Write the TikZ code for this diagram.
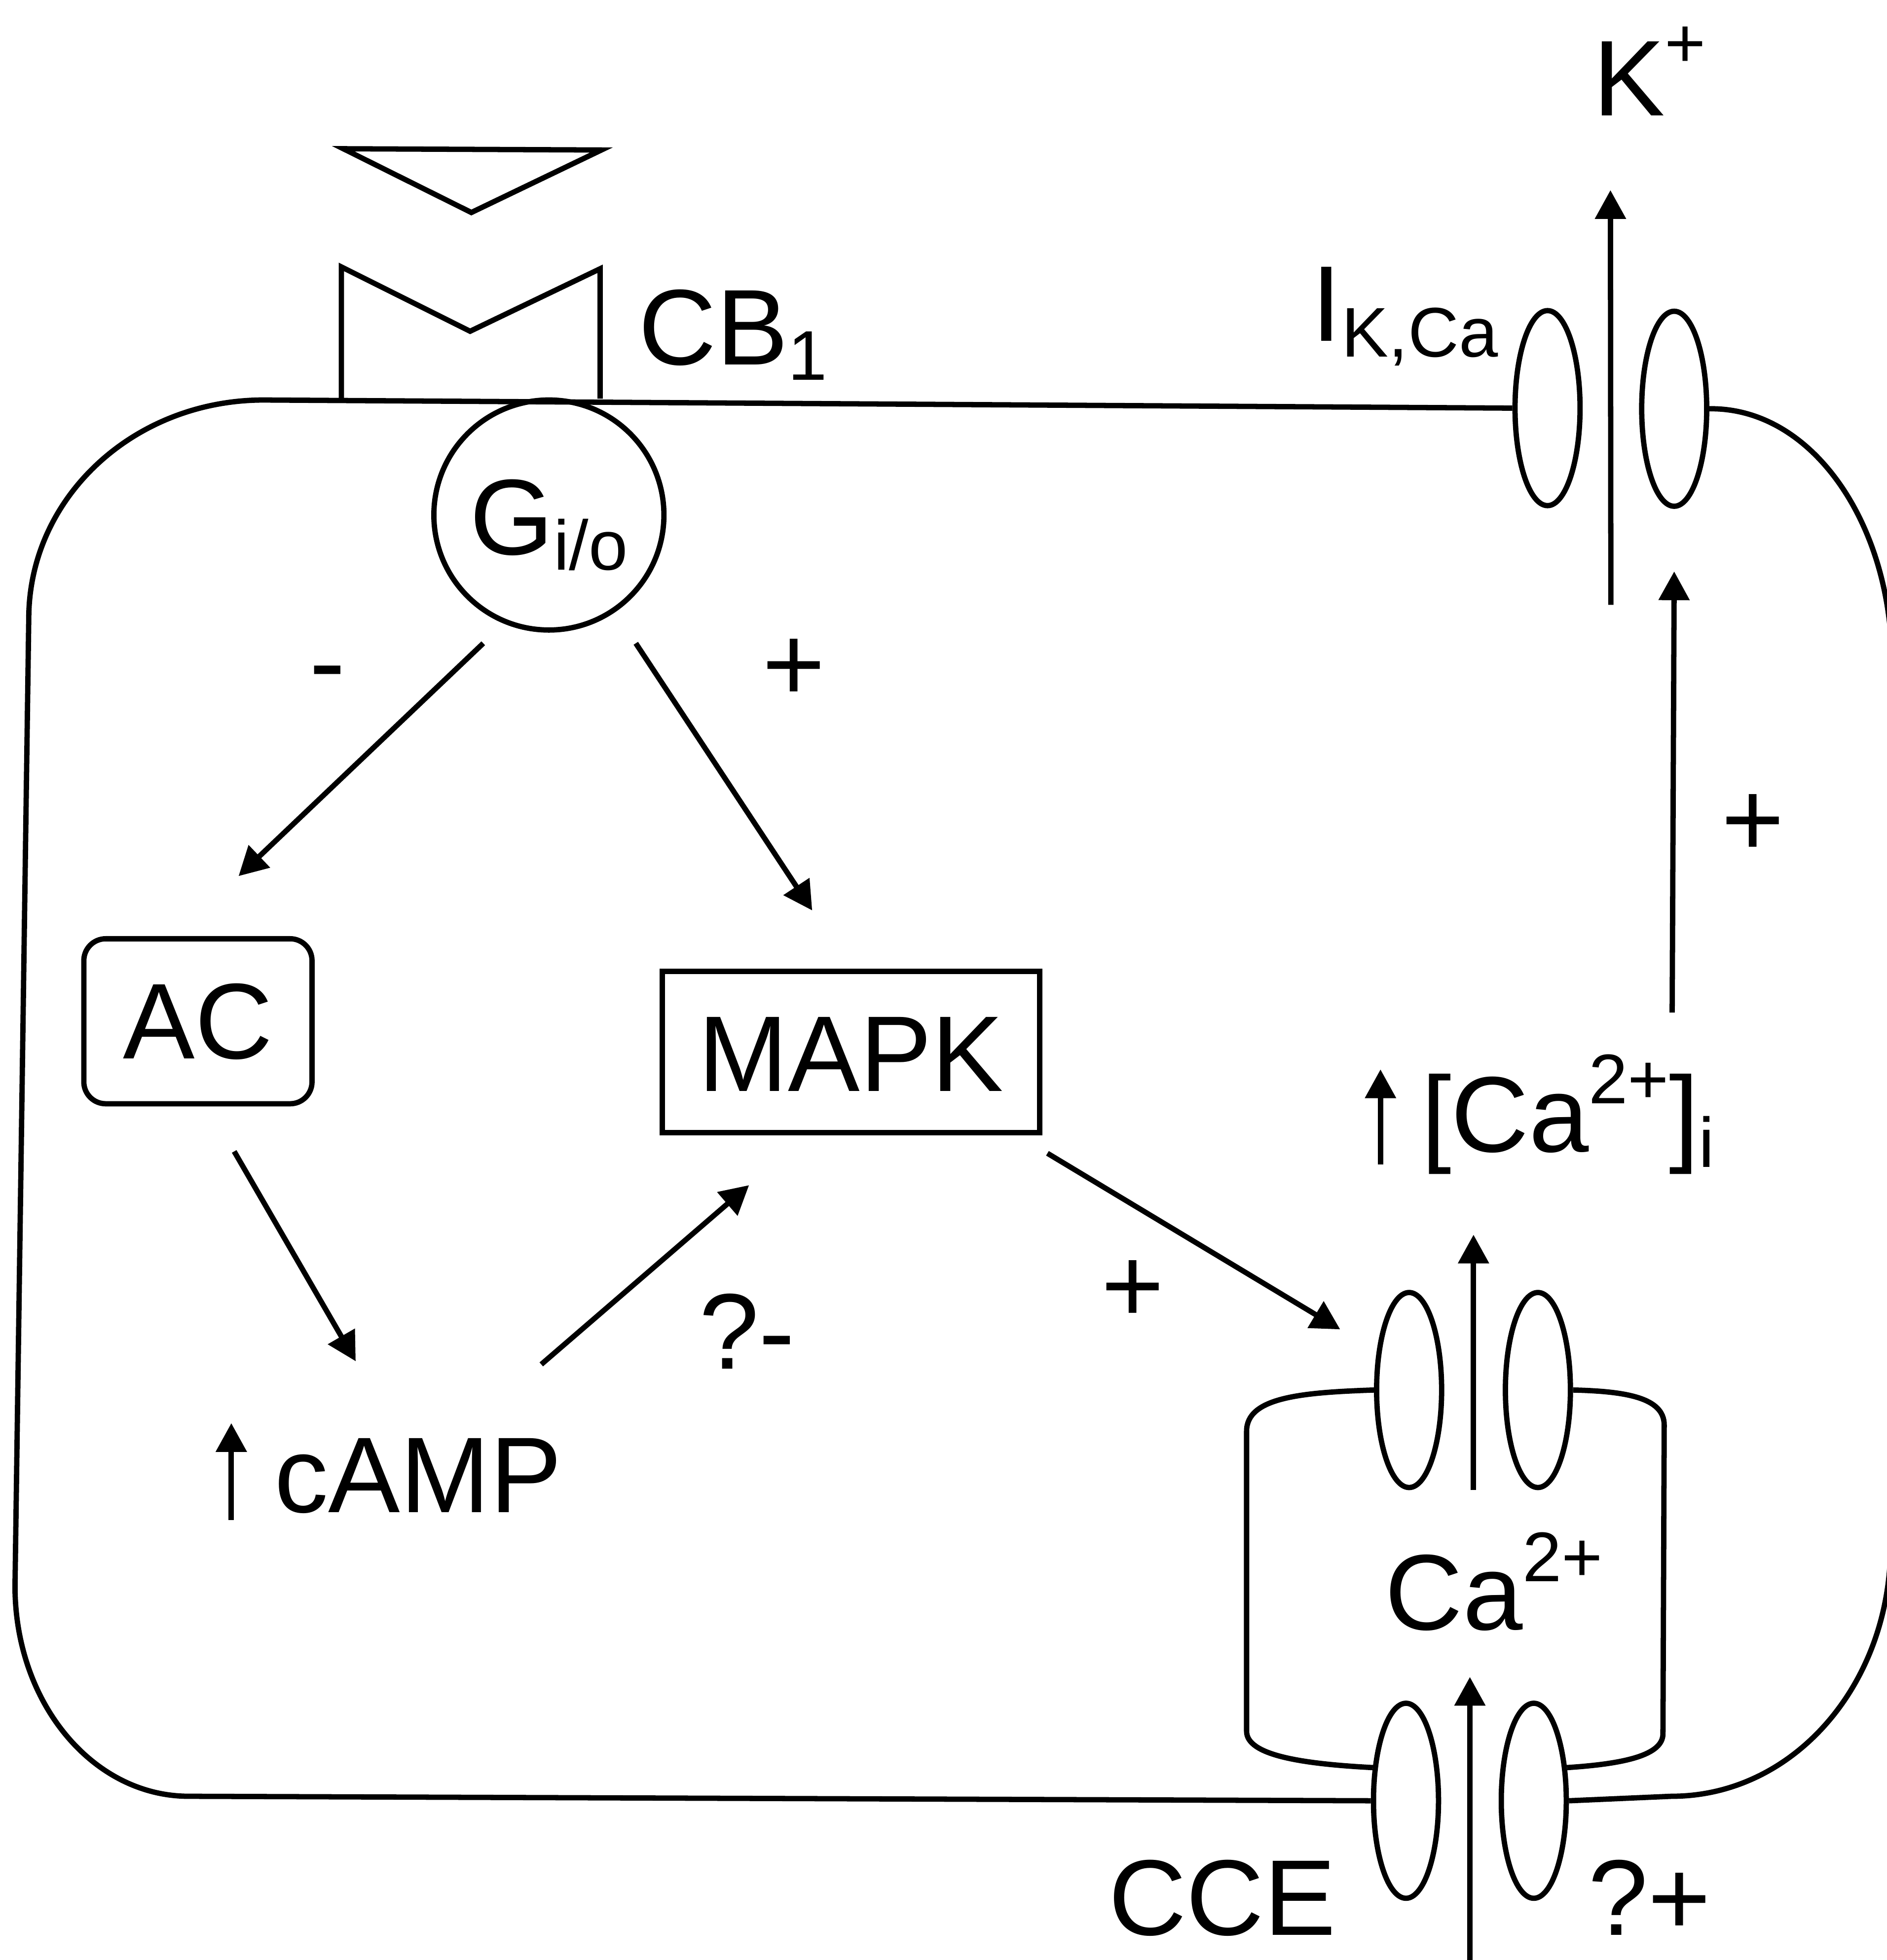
\documentclass[tikz,border=0pt]{standalone}
\usepackage{fontspec}
\setmainfont{Liberation Sans}
\usetikzlibrary{arrows.meta, positioning, calc, shapes.geometric}
\newcommand{\ionsub}[1]{\raisebox{-7pt}{\fontsize{32}{32}\selectfont #1}}
\newcommand{\ionsup}[1]{\raisebox{22pt}{\fontsize{32}{32}\selectfont #1}}

\begin{document}
\begin{tikzpicture}[
                    x=0.2mm, y=-0.2mm,
                    line width=0.85mm,
                    every node/.style={
                        font=\fontsize{49}{58}\selectfont,
                        inner sep=0pt
                    },
                    lbl/.style={
                        anchor=base west
                    },
                    sign/.style={
                        anchor=base
                    },
                    arr/.style={
                        -{Triangle[length=4.6mm,width=4.8mm]}
                    },
                    chan/.style={
                        draw,
                        ellipse,
                        minimum width=10.4mm,
                        minimum height=31.2mm
                    },
                    acbox/.style={
                        draw,
                        rounded corners=3.5mm,
                        minimum width=36.5mm,
                        minimum height=26.4mm,
                        text height=36pt,
                        text depth=2pt
                    },
                    mapkbox/.style={
                        draw,
                        minimum width=60.4mm,
                        minimum height=25.8mm,
                        text height=36pt,
                        text depth=0pt
                    },
                    gprot/.style={
                        draw,
                        circle,
                        minimum size=36.8mm,
                        text height=36pt,
                        text depth=0pt
                    }
                ]
                \useasboundingbox (0,0) rectangle (1509,1568);

                % Ligand et récepteur
                \draw (274.6,119) -- (481,120) -- (377,170) -- cycle;
                \draw (273,319) -- (273,213.5) -- (376,265) -- (480,215) -- (480,319);
                \node[lbl] (cb1) at (508.7,291.6) {CB\ionsub{1}};
                \node[gprot] (gio) at (439,412) {G\ionsub{i/o}};

                % Canaux
                \node[chan] (kl) at (1237.7,326.5) {};
                \node[chan] (kr) at (1339,327) {};
                \node[chan] (cl) at (1127,1112) {};
                \node[chan] (cr) at (1230,1112) {};
                \node[chan] (bl) at (1124.5,1440.6) {};
                \node[chan] (br) at (1226.7,1440.6) {};

                % Membrane et réticulum
                \draw (kl.west) -- (211,320) .. controls (107,320) and (23,398) .. (23,495)
                    -- (12,1269) .. controls (12,1362) and (74,1437) .. (151,1437) -- (bl.west);
                \draw (kr.east) .. controls (1450,326) and (1513,420) .. (1513,530)
                    -- (1512,1237) .. controls (1512,1347) and (1435,1437) .. (1337,1437) -- (br.east);
                \draw (cl.west) .. controls (1040,1114) and (997,1118) .. (997,1145)
                    -- (997,1385) .. controls (997,1404) and (1040,1411) .. (bl.135);
                \draw (cr.east) .. controls (1300,1113) and (1331,1118) .. (1331,1140)
                    -- (1330,1387) .. controls (1330,1404) and (1300,1411) .. (br.45);

                % Textes
                \node[lbl] (kplus) at (1272,92.6) {K\ionsup{+}};
                \node[lbl] (ikca) at (1047,273) {I\ionsub{K,Ca}};
                \node[acbox] (ac) at (158.3,817) {AC};
                \node[mapkbox] (mapk) at (680.6,841.5) {MAPK};
                \node[lbl] (camp) at (217.5,1210) {cAMP};
                \node[lbl] (cai) at (1134.6,921.5) {[Ca\ionsup{2+}]\ionsub{i}};
                \node[lbl] (ercal) at (1105.7,1303.7) {Ca\ionsup{2+}};
                \node[lbl, text depth=0pt] (cce) at (884.5,1548) {CCE};
                \node[lbl, text depth=0pt] (cceq) at (1268,1548) {?+};
                \node[lbl] (qminus) at (557,1095) {?-};
                \node[sign] (minus1) at (262,559) {-};
                \node[sign] (plus1) at (635,561) {+};
                \node[sign] (plus2) at (906,1058) {+};
                \node[sign] (plus3) at (1402,685) {+};

                % Flèches
                \draw[arr] ([xshift=-10.5mm,yshift=-1.7mm]gio.south) -- ([xshift=6.5mm,yshift=9.6mm]ac.north);
                \draw[arr] ([xshift=13.9mm,yshift=-1.7mm]gio.south) -- ([xshift=-6.2mm,yshift=9.3mm]mapk.north);
                \draw[arr] ([xshift=5.8mm,yshift=-7.2mm]ac.south) -- ([xshift=13.4mm,yshift=24.2mm]camp.base west);
                \draw[arr] ([xshift=-3.7mm,yshift=23.7mm]camp.base east) -- ([xshift=-16.3mm,yshift=-8mm]mapk.south);
                \draw[arr] ([xshift=0.8mm,yshift=-2.9mm]mapk.south east) -- ([xshift=-5.4mm,yshift=9.7mm]cl.west);
                \draw[arr] ([xshift=-7.2mm,yshift=22.3mm]cai.base east) -- ([yshift=-10mm]kr.south);
                \draw[arr] ([xshift=-6.5mm,yshift=-1.2mm]camp.base west) -- ([xshift=-6.5mm,yshift=14.3mm]camp.base west);
                \draw[arr] ([xshift=-6.1mm,yshift=-2mm]cai.base west) -- ([xshift=-6.1mm,yshift=13.2mm]cai.base west);

                % Flux ioniques
                \coordinate (kin) at ($(kl.south)!0.5!(kr.south)+(0,77)$);
                \coordinate (erin) at ($(cl.south)!0.5!(cr.south)$);
                \coordinate (cceout) at ($(bl.south)!0.5!(br.south)+(0,60)$);
                \draw[arr] (kin) -- ([xshift=3.2mm,yshift=-11.9mm]kplus.base west);
                \draw[arr] (erin) -- ++(0,-204.4);
                \draw[arr] (cceout) -- ++(0,-239.2);

            \end{tikzpicture}
\end{document}
